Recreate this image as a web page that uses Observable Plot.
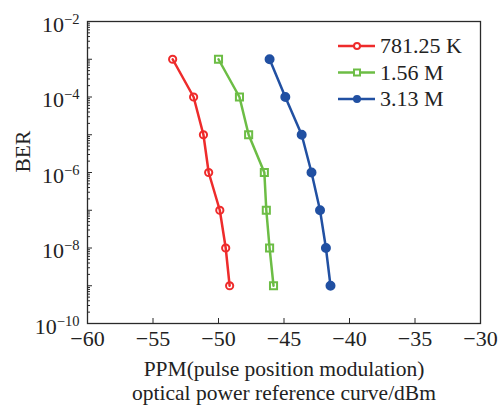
<!DOCTYPE html>
<html><head><meta charset="utf-8">
<script src="https://cdn.jsdelivr.net/npm/d3@7"></script>
<script src="https://cdn.jsdelivr.net/npm/@observablehq/plot@0.6"></script>
<style>body{margin:0;background:#fff}</style>
</head><body><div id="chart"></div>
<script>
const series = ["781.25 K", "1.56 M", "3.13 M"];
const ber = [1e-3, 1e-4, 1e-5, 1e-6, 1e-7, 1e-8, 1e-9];
const power781 = [-53.5, -51.9, -51.15, -50.75, -49.9, -49.45, -49.15];
const power156 = [-50.0, -48.4, -47.7, -46.5, -46.35, -46.1, -45.8];
const power313 = [-46.1, -44.9, -43.65, -42.9, -42.25, -41.8, -41.45];
const xTicks = [-60, -55, -50, -45, -40, -35, -30];
const yLabelTicks = [1e-10, 1e-8, 1e-6, 1e-4, 1e-2];
const xLabel = ["PPM(pulse position modulation)", "optical power reference curve/dBm"];
const yLabel = "BER";
const colors = ["#ee2b2b", "#6cbd45", "#2150a2"];
const symbols = ["circle", "square", "circle"];
const fills = ["none", "none", "#2150a2"];

const powers = [power781, power156, power313];
const rows = series.flatMap((s, i) => ber.map((b, j) => ({series: s, x: powers[i][j], y: b})));
const yDomain = [1e-10, 1e-2];
const allTicks = d3.scaleLog().domain(yDomain).ticks();
const decades = allTicks.filter(t => Math.abs(Math.log10(t) - Math.round(Math.log10(t))) < 1e-9);
const minor = allTicks.filter(t => !decades.includes(t));
const fmtX = d => d < 0 ? "\u2212" + (-d) : String(d);
const font = "Liberation Serif, Times New Roman, serif";

const marks = [
  Plot.frame({stroke: "#2a2a2a", strokeWidth: 1.3}),
  // inward ticks: outward ticks shifted inside by their own length
  Plot.axisX({ticks: xTicks, tickSize: 5, dy: -5, tickFormat: () => "", label: null, stroke: "#2a2a2a"}),
  Plot.axisX({ticks: xTicks, tickSize: 0, tickPadding: 7, tickFormat: fmtX, label: null, fill: "#222"}),
  Plot.axisY({ticks: minor, tickSize: 3, dx: 3, tickFormat: () => "", label: null, stroke: "#2a2a2a"}),
  Plot.axisY({ticks: decades, tickSize: 5, dx: 5, tickFormat: () => "", label: null, stroke: "#2a2a2a"}),
  Plot.axisY({ticks: yLabelTicks, tickSize: 0, tickPadding: 8, dy: 3, tickFormat: d => "10^" + Math.round(Math.log10(d)), label: null, fill: "#222"}),
  Plot.line(rows, {x: "x", y: "y", z: "series", stroke: "series", strokeWidth: 2.5})
];
series.forEach((s, i) => {
  marks.push(Plot.dot(rows.filter(r => r.series === s), {
    x: "x", y: "y", symbol: () => symbols[i], r: i === 1 ? 4 : (i === 0 ? 3.6 : 4),
    stroke: colors[i], fill: fills[i], strokeWidth: 2
  }));
});
marks.push(Plot.text([xLabel.join("\n")], {frameAnchor: "bottom", text: d => d, lineAnchor: "top", dy: 36, lineHeight: 1.1, fontSize: 21.5, fill: "#222"}));
marks.push(Plot.text([yLabel], {frameAnchor: "left", text: d => d, rotate: -90, dx: -64, fontSize: 21.5, fill: "#222"}));

const chart = Plot.plot({
  width: 501, height: 405,
  marginLeft: 87, marginRight: 21, marginTop: 21, marginBottom: 82,
  style: {fontFamily: font, fontSize: "22px", background: "#fff", color: "#222"},
  x: {domain: [-60, -30]},
  y: {type: "log", domain: yDomain},
  color: {domain: series, range: colors},
  marks
});

// superscript exponents on y labels
d3.select(chart).selectAll("text").each(function() {
  const t = d3.select(this);
  const s = t.text();
  if (!/^10\^/.test(s)) return;
  const exp = s.split("^")[1];
  t.text("10");
  t.append("tspan").attr("dy", -8).attr("font-size", 14.5).text("\u2212" + Math.abs(+exp));
});

// legend
const svg = d3.select(chart);
const lg = svg.append("g").attr("font-family", font).attr("font-size", 22).attr("text-anchor", "start");
series.forEach((s, i) => {
  const y = 46 + i * 26.5;
  lg.append("line").attr("x1", 338).attr("x2", 375).attr("y1", y).attr("y2", y)
    .attr("stroke", colors[i]).attr("stroke-width", 2.5);
  if (symbols[i] === "circle") {
    lg.append("circle").attr("cx", 357).attr("cy", y).attr("r", 3)
      .attr("stroke", colors[i]).attr("stroke-width", 2).attr("fill", fills[i] === "none" ? "#fff" : fills[i]);
  } else {
    lg.append("rect").attr("x", 354).attr("y", y - 3).attr("width", 6).attr("height", 6)
      .attr("stroke", colors[i]).attr("stroke-width", 2).attr("fill", "#fff");
  }
  lg.append("text").attr("x", 380).attr("y", y).attr("dy", "0.32em").attr("fill", "#222").text(s);
});

document.getElementById("chart").appendChild(chart);
</script>
</body></html>
